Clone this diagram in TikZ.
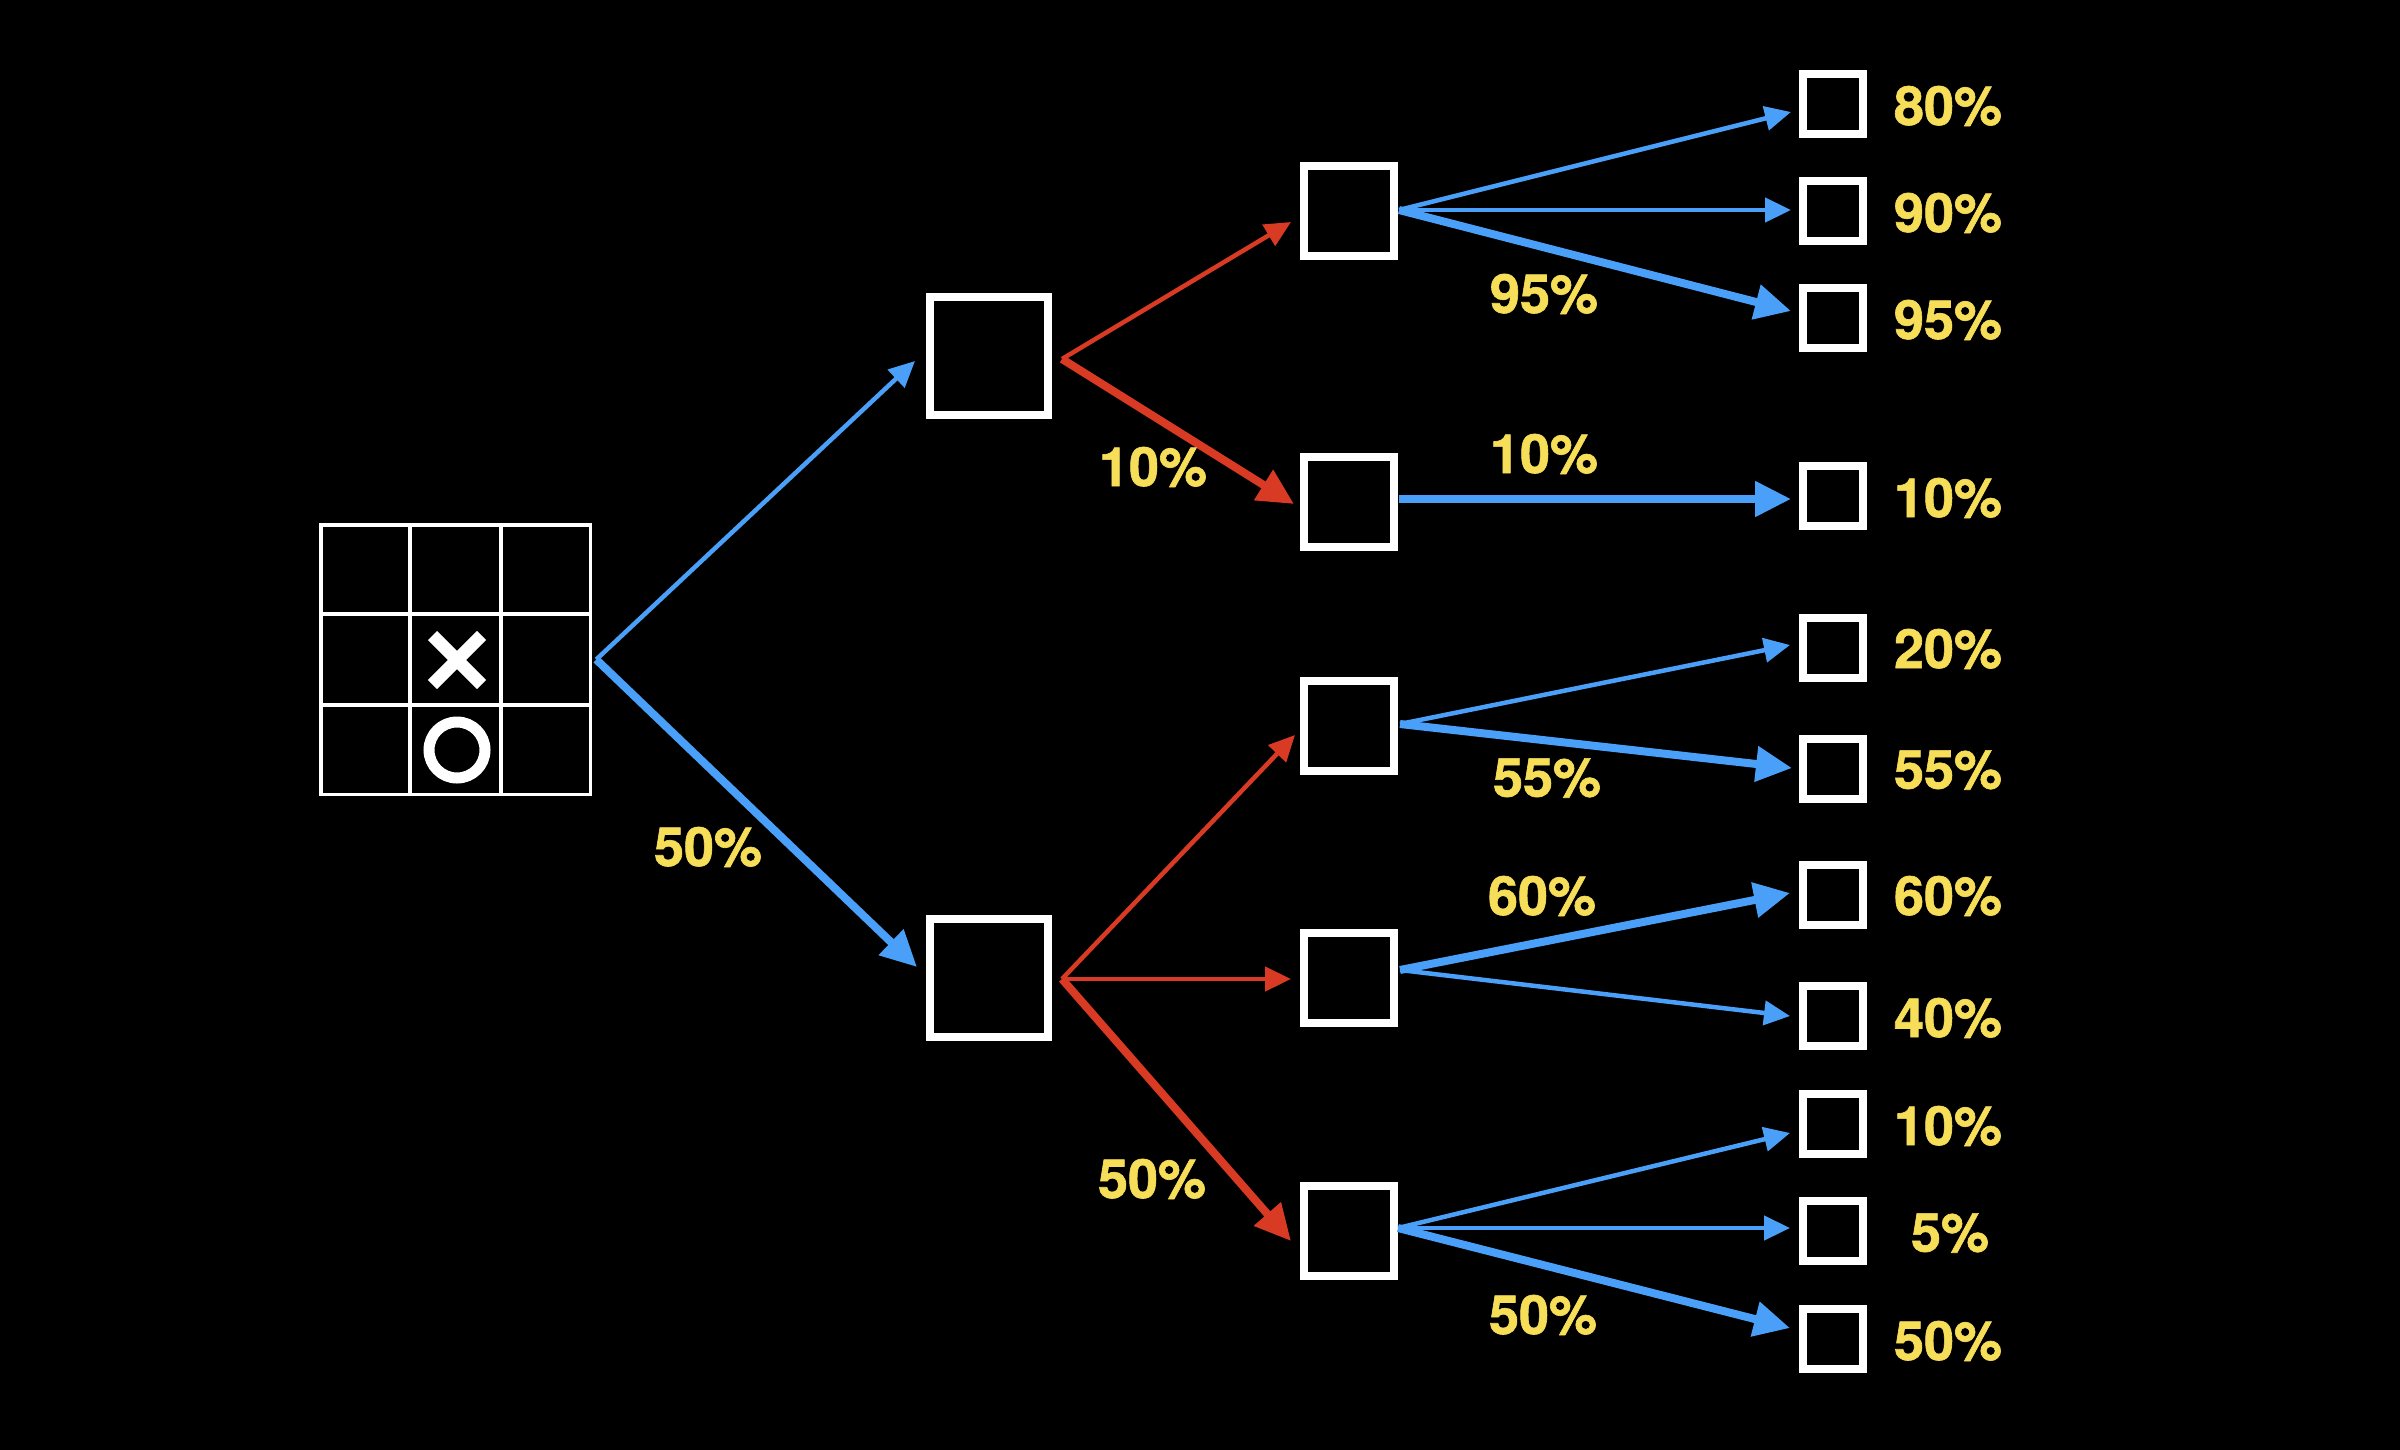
\documentclass[tikz,border=0pt]{standalone}
\usepackage{fontspec}
\setmainfont{texgyreheros}[Extension=.otf, UprightFont=*-regular, BoldFont=*-bold, BoldFeatures={FakeBold=1.2}]
\usetikzlibrary{arrows.meta,calc}
\definecolor{arrblue}{RGB}{74,160,248}
\definecolor{arrred}{RGB}{217,58,36}
\definecolor{labyel}{RGB}{246,222,88}
\tikzset{
  boxA/.style={draw=white, line width=8pt, minimum size=118pt, inner sep=0pt, outer sep=0pt},
  boxB/.style={draw=white, line width=8pt, minimum size=90pt, inner sep=0pt, outer sep=0pt},
  boxC/.style={draw=white, line width=8pt, minimum size=60pt, inner sep=0pt, outer sep=0pt},
  pct/.style={text=labyel, font=\bfseries\fontsize{54}{60}\selectfont, inner sep=0pt},
  bthin/.style={draw=arrblue, line width=4.5pt, -{Triangle[length=26pt,width=24pt]}},
  bthick/.style={draw=arrblue, line width=8pt, -{Triangle[length=36pt,width=34pt]}},
  rthin/.style={draw=arrred, line width=4.5pt, -{Triangle[length=26pt,width=24pt]}},
  rthick/.style={draw=arrred, line width=8pt, -{Triangle[length=36pt,width=34pt]}},
  gridline/.style={draw=white, line width=3.5pt},
}
\begin{document}
\begin{tikzpicture}[x=1pt,y=-1pt]
\fill[black] (0,0) rectangle (2400,1450);
\useasboundingbox (0,0) rectangle (2400,1450);

% board
\node[draw=white, line width=3.5pt, minimum size=269.5pt, inner sep=0pt, outer sep=0pt] (grid) at (455.5,659.5) {};
\draw[gridline] (410,523) -- (410,796);
\draw[gridline] (501,523) -- (501,796);
\draw[gridline] (319,614) -- (592,614);
\draw[gridline] (319,705) -- (592,705);
\draw[white, line width=13pt] (432.5,635.5) -- (481.5,684.5);
\draw[white, line width=13pt] (432.5,684.5) -- (481.5,635.5);
\draw[white, line width=11pt] (457,750) circle (28);

% level 1
\node[boxA] (b1) at (989,356) {};
\node[boxA] (b2) at (989,978) {};
% level 2
\node[boxB] (c1) at (1349,211) {};
\node[boxB] (c2) at (1349,502) {};
\node[boxB] (c3) at (1349,726) {};
\node[boxB] (c4) at (1349,978) {};
\node[boxB] (c5) at (1349,1231) {};
% level 3
\node[boxC] (d1) at (1833,104) {};
\node[boxC] (d2) at (1833,211) {};
\node[boxC] (d3) at (1833,318) {};
\node[boxC] (d4) at (1833,496) {};
\node[boxC] (d5) at (1833,648) {};
\node[boxC] (d6) at (1833,769) {};
\node[boxC] (d7) at (1833,895) {};
\node[boxC] (d8) at (1833,1016) {};
\node[boxC] (d9) at (1833,1124) {};
\node[boxC] (d10) at (1833,1231) {};
\node[boxC] (d11) at (1833,1339) {};

% right labels
\node[pct] (l1) at ($(d1)+(115,2)$) {80\%};
\node[pct] (l2) at ($(d2)+(115,2)$) {90\%};
\node[pct] (l3) at ($(d3)+(115,2)$) {95\%};
\node[pct] (l4) at ($(d4)+(115,2)$) {10\%};
\node[pct] (l5) at ($(d5)+(115,1)$) {20\%};
\node[pct] (l6) at ($(d6)+(115,1)$) {55\%};
\node[pct] (l7) at ($(d7)+(115,1)$) {60\%};
\node[pct] (l8) at ($(d8)+(115,2)$) {40\%};
\node[pct] (l9) at ($(d9)+(115,2)$) {10\%};
\node[pct] (l10) at ($(d10)+(117,2)$) {5\%};
\node[pct] (l11) at ($(d11)+(115,2)$) {50\%};

% arrows from board
\draw[bthin] ($(grid.east)+(6,0)$) -- ($(b1.west)+(-15,5)$);
\draw[bthick] ($(grid.east)+(6,0)$) -- ($(b2.west)+(-13,-11)$);

% level 1 -> level 2
\draw[rthin] ($(b1.east)+(14,3)$) -- ($(c1.west)+(-13,11)$);
\draw[rthick] ($(b1.east)+(14,3)$) -- ($(c2.west)+(-10,2)$);
\draw[rthin] ($(b2.east)+(14,1)$) -- ($(c3.west)+(-9,9)$);
\draw[rthin] ($(b2.east)+(14,1)$) -- ($(c4.west)+(-13,1)$);
\draw[rthick] ($(b2.east)+(14,1)$) -- ($(c5.west)+(-13,10)$);

% level 2 -> level 3
\draw[bthin] ($(c1.east)+(5,-1)$) -- ($(d1.west)+(-12,8)$);
\draw[bthin] ($(c1.east)+(5,-1)$) -- ($(d2.west)+(-12,-1)$);
\draw[bthick] ($(c1.east)+(5,-1)$) -- ($(d3.west)+(-12,-7)$);

\draw[bthick] ($(c2.east)+(5,-3)$) -- ($(d4.west)+(-12,3)$);

\draw[bthin] ($(c3.east)+(6,-2)$) -- ($(d5.west)+(-13,-3)$);
\draw[bthick] ($(c3.east)+(6,-2)$) -- ($(d6.west)+(-11,-1)$);

\draw[bthick] ($(c4.east)+(6,-8)$) -- ($(d7.west)+(-13,-2)$);
\draw[bthin] ($(c4.east)+(6,-8)$) -- ($(d8.west)+(-13,0)$);

\draw[bthin] ($(c5.east)+(4,-3)$) -- ($(d9.west)+(-13,9)$);
\draw[bthin] ($(c5.east)+(4,-3)$) -- ($(d10.west)+(-13,-3)$);
\draw[bthick] ($(c5.east)+(4,-3)$) -- ($(d11.west)+(-13,-11)$);

% edge labels
\node[pct] (e1) at (708,847) {50\%};
\node[pct] (e2) at (1153,467) {10\%};
\node[pct] (e3) at (1152,1179) {50\%};
\node[pct] (e4) at (1544,294) {95\%};
\node[pct] (e5) at (1544,454) {10\%};
\node[pct] (e6) at (1547,778) {55\%};
\node[pct] (e7) at (1542,896) {60\%};
\node[pct] (e8) at (1543,1315) {50\%};
\end{tikzpicture}
\end{document}
